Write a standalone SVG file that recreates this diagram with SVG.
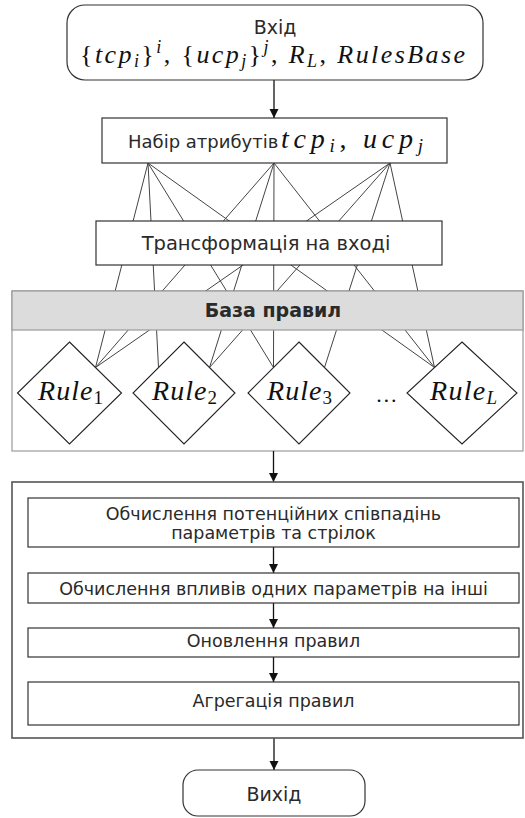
<svg xmlns="http://www.w3.org/2000/svg" width="525" height="818" viewBox="0 0 525 818">
<style>
.box{fill:#fff;stroke:#333;stroke-width:1.2}
.sans{font-family:"DejaVu Sans",Verdana,sans-serif;fill:#2a2a2a;text-anchor:middle}
.start{text-anchor:start}
.math{font-family:"Liberation Serif","Times New Roman",serif;font-style:italic;fill:#111}
.rm{font-style:normal}
.fan{stroke:#444;stroke-width:1;fill:none}
.arr{stroke:#111;stroke-width:1.3;fill:none;marker-end:url(#ah)}
.dia{fill:#fff;stroke:#222;stroke-width:1.1}
</style>
<defs>
<marker id="ah" markerUnits="userSpaceOnUse" markerWidth="10" markerHeight="10" refX="9" refY="4.5" orient="auto">
<path d="M0,0 L9,4.5 L0,9 z" fill="#111"/>
</marker>
</defs>
<rect width="525" height="818" fill="#fff"/>

<g id="rules-container">
<rect x="12" y="291" width="511" height="160" fill="#fff" stroke="#999" stroke-width="1.2"/>
</g>

<g id="connectors">
<line class="fan" x1="148" y1="163" x2="95.5" y2="367.5"/>
<line class="fan" x1="148" y1="163" x2="158.5" y2="367.5"/>
<line class="fan" x1="148" y1="163" x2="273.5" y2="367.5"/>
<line class="fan" x1="148" y1="163" x2="434.5" y2="367.5"/>
<line class="fan" x1="274" y1="163" x2="95.5" y2="367.5"/>
<line class="fan" x1="274" y1="163" x2="209.5" y2="367.5"/>
<line class="fan" x1="274" y1="163" x2="273.5" y2="367.5"/>
<line class="fan" x1="274" y1="163" x2="434.5" y2="367.5"/>
<line class="fan" x1="390" y1="163" x2="95.5" y2="367.5"/>
<line class="fan" x1="390" y1="163" x2="209.5" y2="367.5"/>
<line class="fan" x1="390" y1="163" x2="324.5" y2="367.5"/>
<line class="fan" x1="390" y1="163" x2="434.5" y2="367.5"/>
<line class="arr" x1="274" y1="80" x2="274" y2="118"/>
<line class="arr" x1="273.5" y1="451" x2="273.5" y2="482"/>
<line class="arr" x1="273.5" y1="547" x2="273.5" y2="573"/>
<line class="arr" x1="273.5" y1="603" x2="273.5" y2="628"/>
<line class="arr" x1="273.5" y1="657" x2="273.5" y2="682"/>
<line class="arr" x1="274" y1="738" x2="274" y2="770"/>
</g>

<g id="input">
<rect class="box" x="67" y="5" width="416" height="75" rx="18"/>
<text class="sans" x="275" y="33.5" font-size="19">Вхід</text>
<text class="math" x="80" y="63" font-size="26" textLength="385" lengthAdjust="spacing"><tspan class="rm">{</tspan>tcp<tspan font-size="18" dy="4">i</tspan><tspan class="rm" dy="-4">}</tspan><tspan font-size="18" dy="-10">i</tspan><tspan class="rm" dy="10">, {</tspan>ucp<tspan font-size="18" dy="4">j</tspan><tspan class="rm" dy="-4">}</tspan><tspan font-size="18" dy="-10">j</tspan><tspan class="rm" dy="10">, </tspan>R<tspan font-size="18" dy="4">L</tspan><tspan class="rm" dy="-4">, </tspan>RulesBase</text>
</g>

<g id="attributes">
<rect class="box" x="102" y="118" width="345" height="45"/>
<text class="sans start" x="128" y="148" font-size="18">Набір атрибутів</text>
<text class="math" x="281" y="148" font-size="28" textLength="142" lengthAdjust="spacing">tcp<tspan font-size="19" dy="4">i</tspan><tspan class="rm" dy="-4">, </tspan>ucp<tspan font-size="19" dy="4">j</tspan></text>
</g>

<g id="transform">
<rect class="box" x="96" y="221" width="346" height="44"/>
<text class="sans" x="266" y="250" font-size="19.5">Трансформація на вході</text>
</g>

<g id="rules-header">
<rect x="12" y="291" width="511" height="39" fill="#dcdcdc" stroke="#999" stroke-width="1.2"/>
<text class="sans" x="273" y="317" font-size="19" font-weight="bold" fill="#333">База правил</text>
</g>

<g id="rule1">
<polygon class="dia" points="69.5,342 121.5,393 69.5,444 17.5,393"/>
<text class="math" x="38" y="400" font-size="28" textLength="65" lengthAdjust="spacing">Rule<tspan class="rm" font-size="19" dy="4">1</tspan></text>
</g>
<g id="rule2">
<polygon class="dia" points="184,342 235,393 184,444 133,393"/>
<text class="math" x="152" y="400" font-size="28" textLength="65" lengthAdjust="spacing">Rule<tspan class="rm" font-size="19" dy="4">2</tspan></text>
</g>
<g id="rule3">
<polygon class="dia" points="299,342 350,393 299,444 248,393"/>
<text class="math" x="267" y="400" font-size="28" textLength="65" lengthAdjust="spacing">Rule<tspan class="rm" font-size="19" dy="4">3</tspan></text>
</g>
<g id="dots">
<text class="math" x="377" y="402" font-size="22" font-style="normal">…</text>
</g>
<g id="ruleL">
<polygon class="dia" points="462,342 517,393 462,444 407,393"/>
<text class="math" x="430" y="400" font-size="28" textLength="67" lengthAdjust="spacing">Rule<tspan font-size="19" dy="4">L</tspan></text>
</g>

<g id="processing">
<rect x="12" y="482" width="511" height="256" fill="none" stroke="#555" stroke-width="1.6"/>
</g>
<g id="step1">
<rect class="box" x="28" y="498" width="491" height="49"/>
<text class="sans" x="273.5" y="520" font-size="17.5">Обчислення потенційних співпадінь</text>
<text class="sans" x="273.5" y="539" font-size="17.5">параметрів та стрілок</text>
</g>
<g id="step2">
<rect class="box" x="28" y="573" width="491" height="30"/>
<text class="sans" x="273.5" y="595" font-size="17.5">Обчислення впливів одних параметрів на інші</text>
</g>
<g id="step3">
<rect class="box" x="28" y="628" width="491" height="29"/>
<text class="sans" x="273.5" y="647" font-size="17.5">Оновлення правил</text>
</g>
<g id="step4">
<rect class="box" x="28" y="682" width="491" height="43"/>
<text class="sans" x="273.5" y="707" font-size="17.5">Агрегація правил</text>
</g>

<g id="output">
<rect class="box" x="183" y="770" width="182" height="46" rx="15"/>
<text class="sans" x="274" y="801" font-size="19">Вихід</text>
</g>
</svg>
